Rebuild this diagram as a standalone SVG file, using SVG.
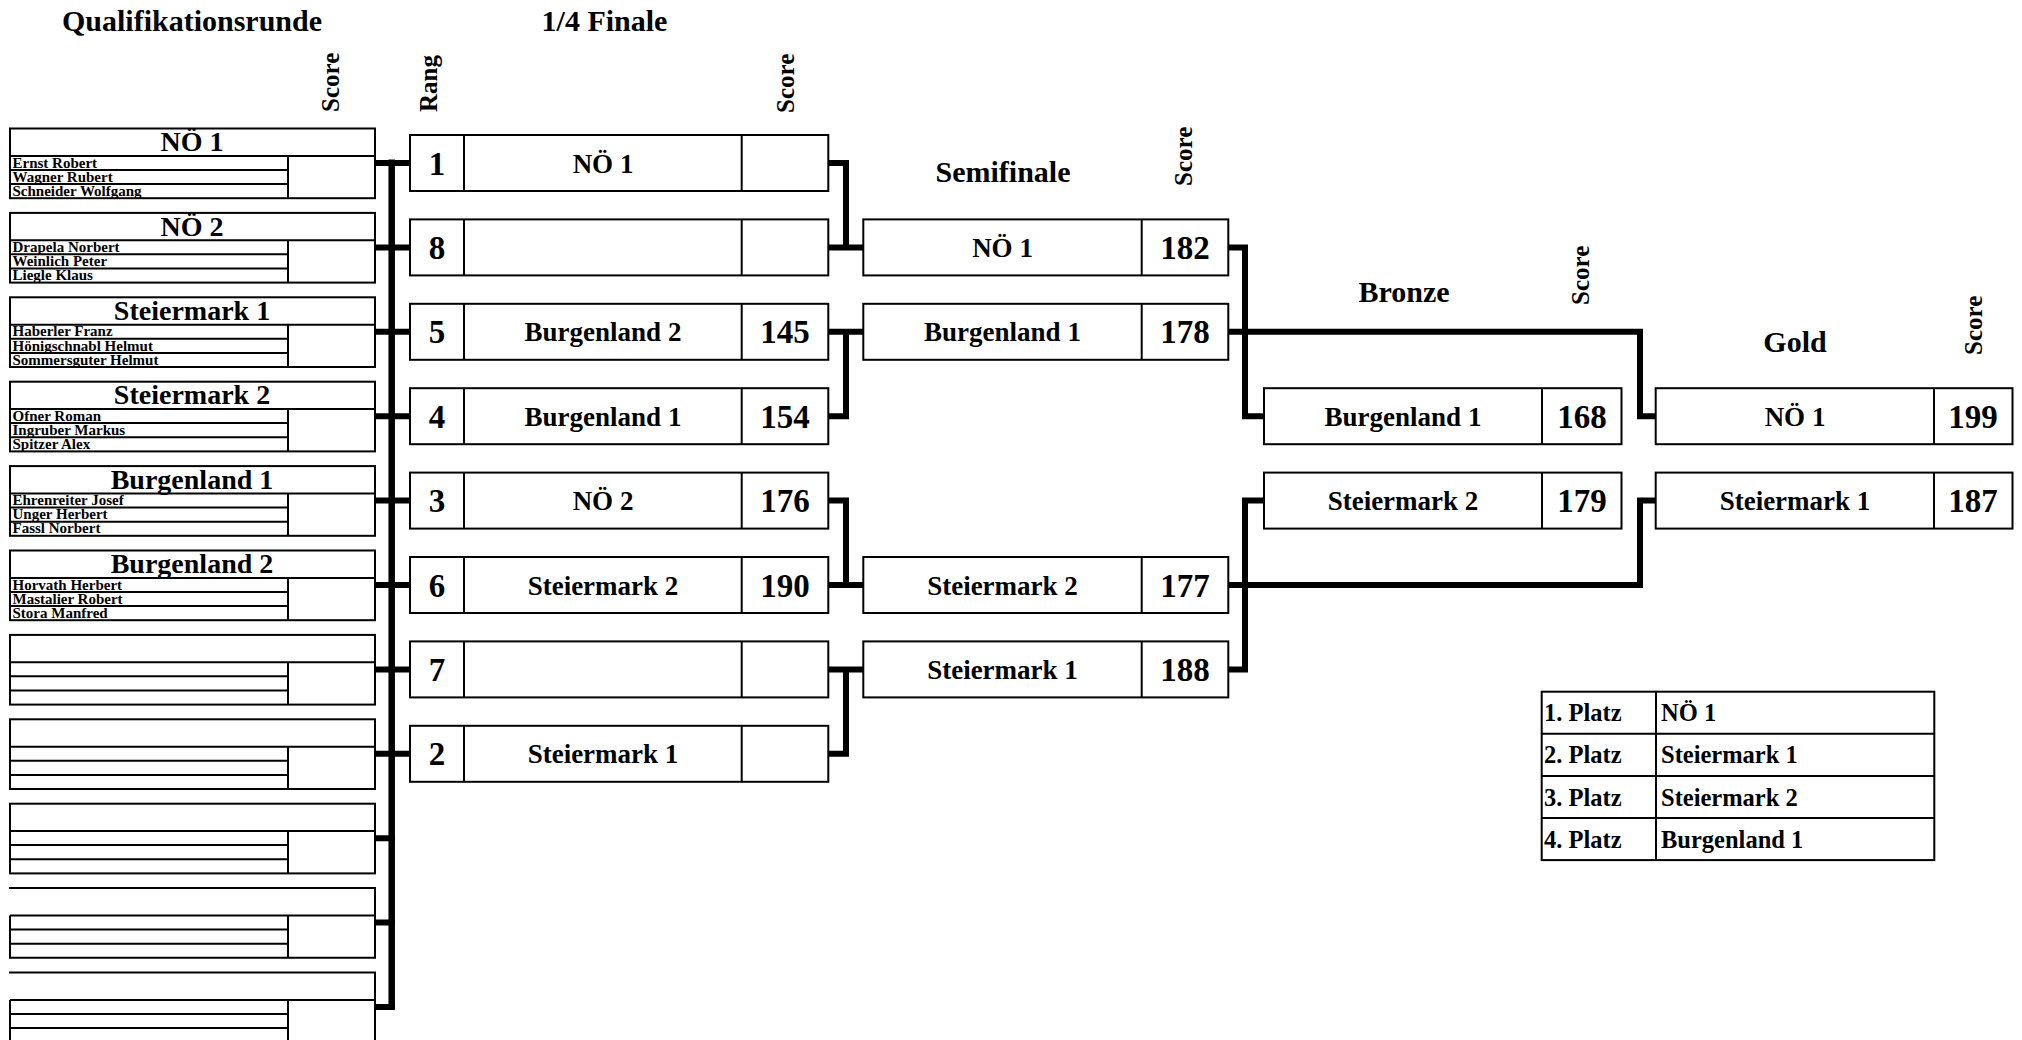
<svg xmlns="http://www.w3.org/2000/svg" width="2022" height="1040" viewBox="0 0 2022 1040">
<style>
text{font-family:"Liberation Serif","Times New Roman",serif;font-weight:bold;fill:#000}
.box{fill:#fff;stroke:#000;stroke-width:2}
.ln{stroke:#000;stroke-width:2;fill:none}
.con{fill:none;stroke:#000;stroke-width:6;stroke-linejoin:miter}
.title{font-size:30px;text-anchor:middle}
.vl{font-size:25px}
.hd{font-size:28px;text-anchor:middle}
.pl{font-size:15px}
.nm{font-size:27px;text-anchor:middle}
.num{font-size:33px;text-anchor:middle}
.lg{font-size:24.5px}
</style>
<rect width="2022" height="1040" fill="#fff"/>
<g id="labels">
<text class="title" x="192" y="31">Qualifikationsrunde</text>
<text class="title" x="604.5" y="31">1/4 Finale</text>
<text class="title" x="1003" y="182">Semifinale</text>
<text class="title" x="1404" y="302">Bronze</text>
<text class="title" x="1795" y="352">Gold</text>
<text class="vl" transform="translate(339,112) rotate(-90)">Score</text>
<text class="vl" transform="translate(437,112) rotate(-90)">Rang</text>
<text class="vl" transform="translate(794,113) rotate(-90)">Score</text>
<text class="vl" transform="translate(1192,186) rotate(-90)">Score</text>
<text class="vl" transform="translate(1589,305) rotate(-90)">Score</text>
<text class="vl" transform="translate(1982,355) rotate(-90)">Score</text>
</g>
<g id="connectors">
<path class="con" d="M391.7 159.5 V1010" style="stroke-width:6.5"/>
<path class="con" d="M375 163 H410 M375 247.4 H410 M375 331.8 H410 M375 416.2 H410 M375 500.6 H410 M375 585 H410 M375 669.4 H410 M375 753.8 H410 M375 838.2 H395 M375 922.6 H395 M375 1007 H395"/>
<path class="con" d="M828 163 H846 V247.4 H863 M828 247.4 H846"/>
<path class="con" d="M863 331.8 H846 V416.2 H828 M828 331.8 H846"/>
<path class="con" d="M828 500.6 H846 V585 H863 M828 585 H846"/>
<path class="con" d="M863 669.4 H846 V753.8 H828 M828 669.4 H846"/>
<path class="con" d="M1228 247.4 H1245 V416.2 H1264"/>
<path class="con" d="M1228 331.8 H1640 V416.2 H1656"/>
<path class="con" d="M1228 585 H1640 V500.6 H1656"/>
<path class="con" d="M1228 669.4 H1245 V500.6 H1264"/>
</g>
<g id="q0"><rect class="box" x="10" y="128.5" width="365" height="69.7"/><path class="ln" d="M10 155.9 H375 M10 169.9 H288 M10 184.1 H288 M288 155.9 V198.2"/><text class="hd" x="192" y="151.2">NÖ 1</text><text class="pl" x="12.5" y="167.5">Ernst Robert</text><text class="pl" x="12.5" y="181.7">Wagner Rubert</text><text class="pl" x="12.5" y="195.8">Schneider Wolfgang</text></g>
<g id="q1"><rect class="box" x="10" y="212.9" width="365" height="69.7"/><path class="ln" d="M10 240.3 H375 M10 254.3 H288 M10 268.5 H288 M288 240.3 V282.6"/><text class="hd" x="192" y="235.6">NÖ 2</text><text class="pl" x="12.5" y="251.9">Drapela Norbert</text><text class="pl" x="12.5" y="266.1">Weinlich Peter</text><text class="pl" x="12.5" y="280.2">Liegle Klaus</text></g>
<g id="q2"><rect class="box" x="10" y="297.3" width="365" height="69.7"/><path class="ln" d="M10 324.7 H375 M10 338.7 H288 M10 352.9 H288 M288 324.7 V367"/><text class="hd" x="192" y="320">Steiermark 1</text><text class="pl" x="12.5" y="336.3">Haberler Franz</text><text class="pl" x="12.5" y="350.5">Hönigschnabl Helmut</text><text class="pl" x="12.5" y="364.6">Sommersguter Helmut</text></g>
<g id="q3"><rect class="box" x="10" y="381.7" width="365" height="69.7"/><path class="ln" d="M10 409.1 H375 M10 423.1 H288 M10 437.3 H288 M288 409.1 V451.4"/><text class="hd" x="192" y="404.4">Steiermark 2</text><text class="pl" x="12.5" y="420.7">Ofner Roman</text><text class="pl" x="12.5" y="434.9">Ingruber Markus</text><text class="pl" x="12.5" y="449">Spitzer Alex</text></g>
<g id="q4"><rect class="box" x="10" y="466.1" width="365" height="69.7"/><path class="ln" d="M10 493.5 H375 M10 507.5 H288 M10 521.7 H288 M288 493.5 V535.8"/><text class="hd" x="192" y="488.8">Burgenland 1</text><text class="pl" x="12.5" y="505.1">Ehrenreiter Josef</text><text class="pl" x="12.5" y="519.3">Unger Herbert</text><text class="pl" x="12.5" y="533.4">Fassl Norbert</text></g>
<g id="q5"><rect class="box" x="10" y="550.5" width="365" height="69.7"/><path class="ln" d="M10 577.9 H375 M10 591.9 H288 M10 606.1 H288 M288 577.9 V620.2"/><text class="hd" x="192" y="573.2">Burgenland 2</text><text class="pl" x="12.5" y="589.5">Horvath Herbert</text><text class="pl" x="12.5" y="603.7">Mastalier Robert</text><text class="pl" x="12.5" y="617.8">Stora Manfred</text></g>
<g id="q6"><rect class="box" x="10" y="634.9" width="365" height="69.7"/><path class="ln" d="M10 662.3 H375 M10 676.3 H288 M10 690.5 H288 M288 662.3 V704.6"/></g>
<g id="q7"><rect class="box" x="10" y="719.3" width="365" height="69.7"/><path class="ln" d="M10 746.7 H375 M10 760.7 H288 M10 774.9 H288 M288 746.7 V789"/></g>
<g id="q8"><rect class="box" x="10" y="803.7" width="365" height="69.7"/><path class="ln" d="M10 831.1 H375 M10 845.1 H288 M10 859.3 H288 M288 831.1 V873.4"/></g>
<g id="q9"><path class="ln" d="M9 888.1 H375 V957.8 H10 V915.5"/><path class="ln" d="M10 915.5 H375 M10 929.5 H288 M10 943.7 H288 M288 915.5 V957.8"/></g>
<g id="q10"><path class="ln" d="M9 972.5 H375 V1042.2 H10 V999.9"/><path class="ln" d="M10 999.9 H375 M10 1013.9 H288 M10 1028.1 H288 M288 999.9 V1042.2"/></g>
<g id="qf1"><rect class="box" x="410" y="135" width="418.3" height="56"/><path class="ln" d="M464 135 V191 M741.7 135 V191"/><text class="num" x="437" y="174.5">1</text><text class="nm" x="603" y="172.5">NÖ 1</text></g>
<g id="qf8"><rect class="box" x="410" y="219.4" width="418.3" height="56"/><path class="ln" d="M464 219.4 V275.4 M741.7 219.4 V275.4"/><text class="num" x="437" y="258.9">8</text></g>
<g id="qf5"><rect class="box" x="410" y="303.8" width="418.3" height="56"/><path class="ln" d="M464 303.8 V359.8 M741.7 303.8 V359.8"/><text class="num" x="437" y="343.3">5</text><text class="nm" x="603" y="341.3">Burgenland 2</text><text class="num" x="785" y="343.3">145</text></g>
<g id="qf4"><rect class="box" x="410" y="388.2" width="418.3" height="56"/><path class="ln" d="M464 388.2 V444.2 M741.7 388.2 V444.2"/><text class="num" x="437" y="427.7">4</text><text class="nm" x="603" y="425.7">Burgenland 1</text><text class="num" x="785" y="427.7">154</text></g>
<g id="qf3"><rect class="box" x="410" y="472.6" width="418.3" height="56"/><path class="ln" d="M464 472.6 V528.6 M741.7 472.6 V528.6"/><text class="num" x="437" y="512.1">3</text><text class="nm" x="603" y="510.1">NÖ 2</text><text class="num" x="785" y="512.1">176</text></g>
<g id="qf6"><rect class="box" x="410" y="557" width="418.3" height="56"/><path class="ln" d="M464 557 V613 M741.7 557 V613"/><text class="num" x="437" y="596.5">6</text><text class="nm" x="603" y="594.5">Steiermark 2</text><text class="num" x="785" y="596.5">190</text></g>
<g id="qf7"><rect class="box" x="410" y="641.4" width="418.3" height="56"/><path class="ln" d="M464 641.4 V697.4 M741.7 641.4 V697.4"/><text class="num" x="437" y="680.9">7</text></g>
<g id="qf2"><rect class="box" x="410" y="725.8" width="418.3" height="56"/><path class="ln" d="M464 725.8 V781.8 M741.7 725.8 V781.8"/><text class="num" x="437" y="765.3">2</text><text class="nm" x="603" y="763.3">Steiermark 1</text></g>
<g id="sf1"><rect class="box" x="863.3" y="219.4" width="365" height="56"/><path class="ln" d="M1141.7 219.4 V275.4"/><text class="nm" x="1002.5" y="256.9">NÖ 1</text><text class="num" x="1185" y="258.9">182</text></g>
<g id="sf2"><rect class="box" x="863.3" y="303.8" width="365" height="56"/><path class="ln" d="M1141.7 303.8 V359.8"/><text class="nm" x="1002.5" y="341.3">Burgenland 1</text><text class="num" x="1185" y="343.3">178</text></g>
<g id="sf3"><rect class="box" x="863.3" y="557" width="365" height="56"/><path class="ln" d="M1141.7 557 V613"/><text class="nm" x="1002.5" y="594.5">Steiermark 2</text><text class="num" x="1185" y="596.5">177</text></g>
<g id="sf4"><rect class="box" x="863.3" y="641.4" width="365" height="56"/><path class="ln" d="M1141.7 641.4 V697.4"/><text class="nm" x="1002.5" y="678.9">Steiermark 1</text><text class="num" x="1185" y="680.9">188</text></g>
<g id="bronze1"><rect class="box" x="1264" y="388.2" width="357.5" height="56"/><path class="ln" d="M1542 388.2 V444.2"/><text class="nm" x="1403" y="425.7">Burgenland 1</text><text class="num" x="1582" y="427.7">168</text></g>
<g id="bronze2"><rect class="box" x="1264" y="472.6" width="357.5" height="56"/><path class="ln" d="M1542 472.6 V528.6"/><text class="nm" x="1403" y="510.1">Steiermark 2</text><text class="num" x="1582" y="512.1">179</text></g>
<g id="gold1"><rect class="box" x="1655.7" y="388.2" width="356.8" height="56"/><path class="ln" d="M1934 388.2 V444.2"/><text class="nm" x="1795" y="425.7">NÖ 1</text><text class="num" x="1973" y="427.7">199</text></g>
<g id="gold2"><rect class="box" x="1655.7" y="472.6" width="356.8" height="56"/><path class="ln" d="M1934 472.6 V528.6"/><text class="nm" x="1795" y="510.1">Steiermark 1</text><text class="num" x="1973" y="512.1">187</text></g>
<g id="legend"><rect class="box" x="1541.7" y="691.7" width="392.6" height="168.4"/><path class="ln" d="M1541.7 733.8 H1934.3 M1541.7 775.9 H1934.3 M1541.7 818 H1934.3 M1656 691.7 V860.1"/>
<text class="lg" x="1544" y="721.3">1. Platz</text><text class="lg" x="1661" y="721.3">NÖ 1</text>
<text class="lg" x="1544" y="763.4">2. Platz</text><text class="lg" x="1661" y="763.4">Steiermark 1</text>
<text class="lg" x="1544" y="805.5">3. Platz</text><text class="lg" x="1661" y="805.5">Steiermark 2</text>
<text class="lg" x="1544" y="847.6">4. Platz</text><text class="lg" x="1661" y="847.6">Burgenland 1</text></g>
</svg>
